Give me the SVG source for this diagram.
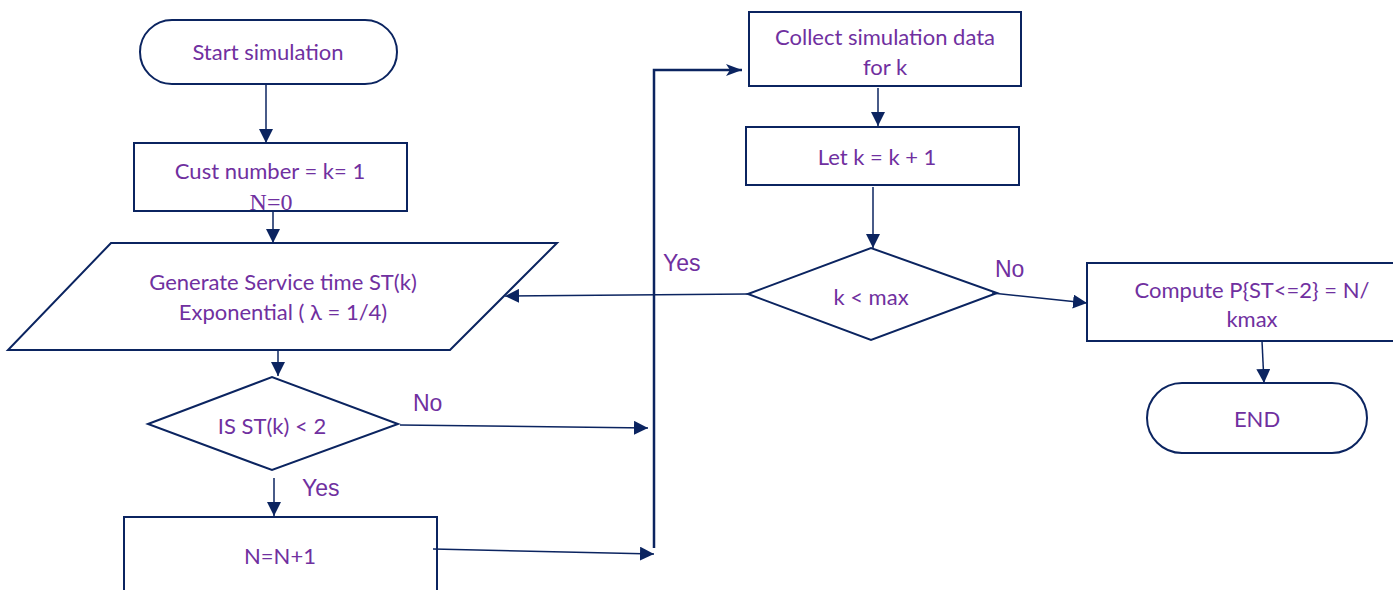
<svg xmlns="http://www.w3.org/2000/svg" width="1393" height="590" viewBox="0 0 1393 590">
<style>
.s{fill:#fff;stroke:#0b2460;stroke-width:2}
.t{font-family:Lato,"Liberation Sans",sans-serif;font-size:22px;fill:#7030a0;text-anchor:middle}
.l{font-family:"Liberation Sans",Arial,sans-serif;font-size:23px;fill:#7030a0}
.c{fill:none;stroke:#0b2460;stroke-width:1.5}
.c2{fill:none;stroke:#0b2460;stroke-width:2.5}
</style>
<defs>
<marker id="b" viewBox="0 0 16 12" refX="16" refY="6" markerWidth="16" markerHeight="12" markerUnits="userSpaceOnUse" orient="auto"><path d="M0,0L16,6L0,12L4,6Z" fill="#0b2460"/></marker>
<marker id="m" viewBox="0 0 14 14" refX="14" refY="7" markerWidth="14" markerHeight="14" markerUnits="userSpaceOnUse" orient="auto"><path d="M0,0L14,7L0,14Z" fill="#0b2460"/></marker>
<clipPath id="cp"><rect x="134" y="143" width="273" height="67"/></clipPath>
</defs>
<g id="start"><rect class="s" x="140" y="20" width="257" height="64" rx="32"/><text class="t" x="268" y="60">Start simulation</text></g>
<g id="init"><rect class="s" x="134" y="143" width="273" height="68"/><text class="t" x="270" y="179">Cust number = k= 1</text><text x="271" y="210" clip-path="url(#cp)" style="font-family:'Liberation Serif',serif;font-size:24px;fill:#7030a0;text-anchor:middle">N=0</text></g>
<g id="gen"><polygon class="s" points="111,243 557,243 450,350 8,350"/><text class="t" x="283" y="290">Generate Service time ST(k)</text><text class="t" x="283" y="320">Exponential ( λ = 1/4)</text></g>
<g id="dec1"><polygon class="s" points="148,424 272,377 398,424 272,470"/><text class="t" x="272" y="434">IS ST(k) &lt;  2</text></g>
<g id="inc"><polyline class="s" points="124,590 124,517 437,517 437,590"/><text class="t" x="280" y="564">N=N+1</text></g>
<g id="collect"><rect class="s" x="749" y="12" width="272" height="74"/><text class="t" x="885" y="45">Collect simulation data</text><text class="t" x="885" y="75">for k</text></g>
<g id="letk"><rect class="s" x="746" y="127" width="273" height="58"/><text class="t" x="877" y="165">Let k = k + 1</text></g>
<g id="dec2"><polygon class="s" points="748,294 871,248 997,293 871,340"/><text class="t" x="871" y="305">k &lt; max</text></g>
<g id="compute"><polyline class="s" points="1394,263 1087,263 1087,341 1394,341"/><text class="t" x="1252" y="298">Compute P{ST&lt;=2} = N/</text><text class="t" x="1252" y="327">kmax</text></g>
<g id="end"><rect class="s" x="1147" y="383" width="220" height="70" rx="35"/><text class="t" x="1257" y="427">END</text></g>
<g id="connectors">
<line class="c" x1="266" y1="84" x2="266" y2="143" marker-end="url(#m)"/>
<line class="c" x1="273" y1="211" x2="273" y2="243" marker-end="url(#m)"/>
<line class="c" x1="278" y1="350" x2="278" y2="376" marker-end="url(#m)"/>
<line class="c" x1="400" y1="425" x2="648" y2="428" marker-end="url(#m)"/>
<line class="c" x1="274" y1="478" x2="274" y2="516" marker-end="url(#m)"/>
<line class="c" x1="433" y1="549" x2="654" y2="554" marker-end="url(#m)"/>
<polyline class="c2" points="654,548 654,70 742,70" marker-end="url(#b)"/>
<line class="c" x1="878" y1="88" x2="878" y2="126" marker-end="url(#m)"/>
<line class="c" x1="873" y1="187" x2="873" y2="248" marker-end="url(#m)"/>
<line class="c" x1="748" y1="294" x2="505" y2="296" marker-end="url(#m)"/>
<line class="c" x1="992" y1="293" x2="1087" y2="303" marker-end="url(#m)"/>
<line class="c" x1="1262" y1="341" x2="1264" y2="383" marker-end="url(#m)"/>
</g>
<text class="l" x="413" y="411">No</text>
<text class="l" x="302" y="496">Yes</text>
<text class="l" x="663" y="271">Yes</text>
<text class="l" x="995" y="277">No</text>
</svg>
